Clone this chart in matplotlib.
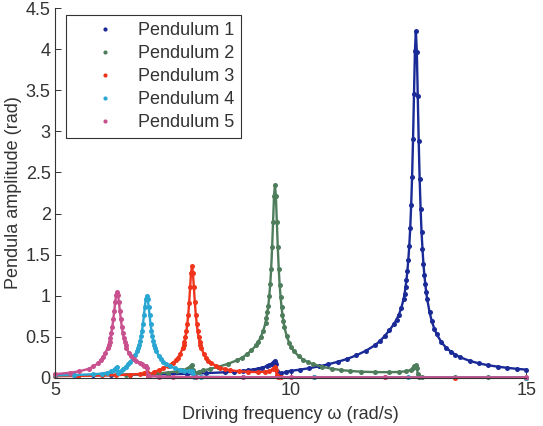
import matplotlib
matplotlib.use("Agg")
import matplotlib.pyplot as plt
from matplotlib.lines import Line2D

plt.rcParams['font.family'] = ['Liberation Sans', 'DejaVu Sans']

# driving frequency (rad/s) and amplitude (rad) for each pendulum
w1 = [5.0, 5.4, 5.8, 6.2, 6.6, 7.0, 7.4, 7.8, 8.2, 8.6, 8.8, 9.0, 9.1, 9.2, 9.3, 9.4, 9.5, 9.55, 9.6, 9.63,
      9.65, 9.67, 9.69, 9.71, 9.73, 9.76, 9.8, 9.9, 10.0, 10.2, 10.4, 10.6, 10.8, 11.0, 11.2, 11.4, 11.6, 11.8,
      11.9, 12.0, 12.1, 12.2, 12.25, 12.3, 12.35, 12.4, 12.42, 12.44, 12.46, 12.48, 12.5, 12.52, 12.54, 12.56,
      12.58, 12.6, 12.62, 12.64, 12.66, 12.68, 12.7, 12.72, 12.74, 12.76, 12.78, 12.8, 12.82, 12.84, 12.86,
      12.88, 12.9, 12.95, 13.0, 13.05, 13.1, 13.2, 13.3, 13.4, 13.5, 13.6, 13.8, 14.0, 14.2, 14.4, 14.6, 14.8, 15.0]
a1 = [0.030, 0.032, 0.034, 0.036, 0.038, 0.041, 0.045, 0.050, 0.057, 0.068, 0.076, 0.086, 0.093, 0.101, 0.112,
      0.125, 0.143, 0.156, 0.172, 0.186, 0.198, 0.210, 0.165, 0.080, 0.025, 0.040, 0.055, 0.072, 0.085, 0.100,
      0.118, 0.140, 0.165, 0.195, 0.230, 0.275, 0.330, 0.400, 0.450, 0.510, 0.580, 0.660, 0.710, 0.770, 0.850,
      0.960, 1.020, 1.100, 1.190, 1.300, 1.440, 1.610, 1.820, 2.100, 2.450, 2.910, 3.450, 3.980, 4.220, 3.970,
      3.430, 2.880, 2.420, 2.060, 1.780, 1.570, 1.390, 1.250, 1.140, 1.040, 0.960, 0.800, 0.686, 0.600, 0.533,
      0.435, 0.368, 0.320, 0.281, 0.251, 0.207, 0.176, 0.153, 0.136, 0.122, 0.110, 0.100]

w2 = [5.0, 5.5, 6.0, 6.5, 7.0, 7.2, 7.4, 7.6, 7.7, 7.8, 7.85, 7.89, 7.91, 7.93, 7.95, 7.98, 8.05, 8.15, 8.3,
      8.47, 8.67, 8.87, 8.97, 9.07, 9.17, 9.27, 9.32, 9.37, 9.42, 9.47, 9.49, 9.51, 9.53, 9.55, 9.57, 9.59, 9.61,
      9.63, 9.65, 9.67, 9.69, 9.71, 9.73, 9.75, 9.77, 9.79, 9.81, 9.83, 9.85, 9.87, 9.92, 9.97, 10.02, 10.07,
      10.17, 10.27, 10.37, 10.47, 10.67, 10.87, 11.07, 11.27, 11.5, 11.8, 12.1, 12.3, 12.45, 12.55, 12.6, 12.63,
      12.66, 12.68, 12.7, 12.72, 12.8, 13.5, 14.2, 15.0]
a2 = [0.025, 0.028, 0.032, 0.038, 0.047, 0.055, 0.065, 0.080, 0.090, 0.110, 0.125, 0.145, 0.160, 0.100, 0.050,
      0.060, 0.075, 0.090, 0.110, 0.135, 0.170, 0.215, 0.245, 0.285, 0.335, 0.395, 0.440, 0.500, 0.570, 0.670,
      0.730, 0.800, 0.880, 1.000, 1.140, 1.330, 1.590, 1.900, 2.210, 2.350, 2.210, 1.900, 1.590, 1.330, 1.130,
      0.980, 0.860, 0.760, 0.690, 0.620, 0.505, 0.430, 0.372, 0.328, 0.265, 0.222, 0.190, 0.168, 0.135, 0.112,
      0.095, 0.084, 0.075, 0.070, 0.069, 0.072, 0.080, 0.095, 0.115, 0.140, 0.155, 0.120, 0.050, 0.012, 0.008,
      0.006, 0.005, 0.004]

w3 = [5.0, 5.5, 6.0, 6.3, 6.6, 6.8, 6.9, 6.93, 6.95, 6.97, 7.0, 7.1, 7.2, 7.3, 7.41, 7.51, 7.56, 7.61, 7.66,
      7.71, 7.73, 7.75, 7.77, 7.79, 7.81, 7.83, 7.85, 7.87, 7.89, 7.91, 7.93, 7.95, 7.97, 7.99, 8.01, 8.03, 8.05,
      8.07, 8.09, 8.11, 8.16, 8.21, 8.26, 8.31, 8.41, 8.51, 8.61, 8.71, 8.91, 9.1, 9.3, 9.45, 9.55, 9.62, 9.67,
      9.69, 9.71, 9.73, 9.8, 10.5, 12.0, 13.5, 15.0]
a3 = [0.020, 0.024, 0.029, 0.033, 0.040, 0.048, 0.057, 0.063, 0.070, 0.020, 0.040, 0.068, 0.092, 0.118, 0.150,
      0.185, 0.212, 0.245, 0.290, 0.360, 0.395, 0.440, 0.495, 0.565, 0.650, 0.770, 0.915, 1.100, 1.278, 1.360,
      1.278, 1.100, 0.919, 0.771, 0.655, 0.567, 0.497, 0.442, 0.397, 0.361, 0.292, 0.245, 0.211, 0.185, 0.149,
      0.124, 0.106, 0.093, 0.080, 0.074, 0.070, 0.075, 0.085, 0.105, 0.130, 0.090, 0.035, 0.010, 0.008, 0.006,
      0.005, 0.004, 0.004]

w4 = [5.0, 5.4, 5.8, 6.0, 6.1, 6.2, 6.25, 6.28, 6.3, 6.32, 6.34, 6.37, 6.4, 6.45, 6.5, 6.55, 6.6, 6.65, 6.7,
      6.75, 6.77, 6.79, 6.81, 6.83, 6.85, 6.87, 6.89, 6.91, 6.93, 6.95, 6.97, 6.99, 7.01, 7.03, 7.05, 7.07, 7.09,
      7.11, 7.13, 7.15, 7.2, 7.25, 7.3, 7.35, 7.45, 7.55, 7.65, 7.75, 7.85, 7.89, 7.91, 7.93, 7.95, 8.1, 9.0,
      10.5, 12.5, 15.0]
a4 = [0.030, 0.034, 0.043, 0.052, 0.062, 0.078, 0.092, 0.105, 0.115, 0.128, 0.060, 0.068, 0.082, 0.108, 0.138,
      0.167, 0.198, 0.235, 0.280, 0.330, 0.362, 0.401, 0.447, 0.504, 0.573, 0.658, 0.759, 0.868, 0.962, 1.000,
      0.962, 0.868, 0.759, 0.658, 0.573, 0.504, 0.447, 0.401, 0.362, 0.330, 0.270, 0.227, 0.196, 0.172, 0.139,
      0.116, 0.100, 0.088, 0.080, 0.082, 0.085, 0.050, 0.015, 0.012, 0.008, 0.006, 0.005, 0.004]

w5 = [5.0, 5.32, 5.52, 5.72, 5.82, 5.92, 5.97, 6.02, 6.07, 6.12, 6.14, 6.16, 6.18, 6.2, 6.22, 6.24, 6.26, 6.28,
      6.3, 6.32, 6.34, 6.36, 6.38, 6.4, 6.42, 6.44, 6.46, 6.48, 6.5, 6.52, 6.57, 6.62, 6.67, 6.72, 6.8, 6.85,
      6.9, 6.93, 6.95, 6.97, 7.0, 7.2, 7.5, 8.0, 9.0, 10.0, 12.0, 15.0]
a5 = [0.045, 0.062, 0.080, 0.110, 0.140, 0.180, 0.212, 0.252, 0.299, 0.365, 0.400, 0.441, 0.491, 0.551, 0.624,
      0.711, 0.812, 0.918, 1.005, 1.040, 1.005, 0.918, 0.812, 0.711, 0.624, 0.551, 0.491, 0.441, 0.400, 0.365,
      0.300, 0.260, 0.230, 0.205, 0.180, 0.165, 0.150, 0.140, 0.120, 0.030, 0.020, 0.015, 0.012, 0.010, 0.008,
      0.007, 0.006, 0.005]

labels = ['Pendulum 1', 'Pendulum 2', 'Pendulum 3', 'Pendulum 4', 'Pendulum 5']
colors = ['#1a2a96', '#4e7d5c', '#f0341c', '#2aa6d2', '#c8508e']
yticks = [0, 0.5, 1, 1.5, 2, 2.5, 3, 3.5, 4, 4.5]
ytick_labels = ['0', '0.5', '1', '1.5', '2', '2.5', '3', '3.5', '4', '4.5']
xticks = [5, 10, 15]

txt = '#333333'

fig = plt.figure(figsize=(5.43, 4.26), dpi=100)
ax = fig.add_axes([0.101, 0.113, 0.868, 0.868])

series = [(w1, a1), (w2, a2), (w3, a3), (w4, a4), (w5, a5)]
for (w, a), c in zip(series, colors):
    ax.plot(w, a, color=c, lw=1.7, marker='o', ms=3.6, mew=0, clip_on=False)

ax.set_xlim(5, 15)
ax.set_ylim(0, 4.5)
ax.set_xticks(xticks)
ax.set_yticks(yticks)
ax.set_yticklabels(ytick_labels)
ax.tick_params(direction='in', length=4, width=0.7, colors=txt, labelsize=13, pad=3)
for s in ['top', 'right']:
    ax.spines[s].set_visible(False)
for s in ['left', 'bottom']:
    ax.spines[s].set_color(txt)
    ax.spines[s].set_linewidth(0.8)

ax.set_xlabel('Driving frequency ω (rad/s)', fontsize=13, color=txt, labelpad=5)
ax.set_ylabel('Pendula amplitude (rad)', fontsize=13, color=txt, labelpad=3)

handles = [Line2D([], [], ls='none', marker='o', ms=3.0, mew=0, color=c) for c in colors]
leg = ax.legend(handles, labels, loc='upper left', bbox_to_anchor=(0.023, 0.981), borderaxespad=0,
                fontsize=13, handlelength=3.5, handletextpad=0.1, labelspacing=0.33,
                fancybox=False, framealpha=1, edgecolor='#333333', borderpad=0.4)
leg.get_frame().set_linewidth(0.8)
for t in leg.get_texts():
    t.set_color(txt)

fig.savefig('out.png', dpi=100)
